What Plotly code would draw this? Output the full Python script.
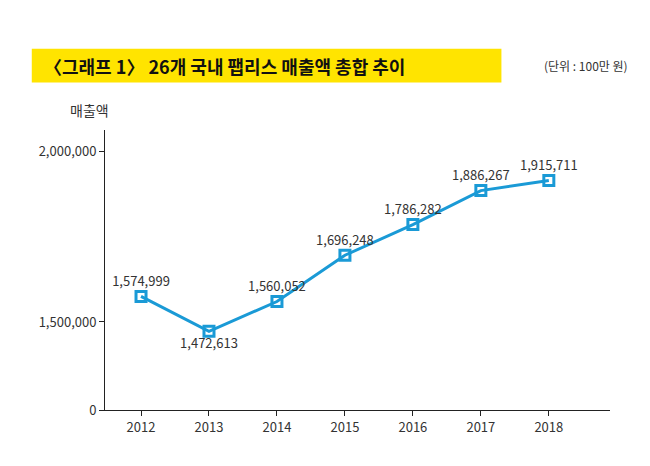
import plotly.graph_objects as go

years = ["2012", "2013", "2014", "2015", "2016", "2017", "2018"]
sales = [1574999, 1472613, 1560052, 1696248, 1786282, 1886267, 1915711]
labels = ["1,574,999", "1,472,613", "1,560,052", "1,696,248", "1,786,282", "1,886,267", "1,915,711"]
positions = ["top center", "bottom center", "top center", "top center", "top center", "top center", "top center"]
ytick_vals = [1241000, 1500000, 2000000]
ytick_text = ["0", "1,500,000", "2,000,000"]

fig = go.Figure(go.Scatter(
    x=list(range(len(years))), y=sales, mode="lines+markers+text",
    text=labels, textposition=positions,
    textfont=dict(size=13, color="#333"),
    line=dict(color="#1a9ad6", width=3),
    marker=dict(symbol="square-open", size=10, color="#1a9ad6", line=dict(width=3)),
))
fig.update_layout(
    width=650, height=466, margin=dict(l=97, r=48, t=122, b=64),
    plot_bgcolor="white", paper_bgcolor="white", showlegend=False,
    font=dict(family="Noto Sans CJK KR", color="#333"),
    xaxis=dict(range=[-0.53, 6.9], tickvals=list(range(len(years))), ticktext=years,
               showgrid=False, zeroline=False, showline=True, linecolor="#222",
               ticks="outside", ticklen=5, tickcolor="#222", tickfont=dict(size=13)),
    yaxis=dict(range=[1241000, 2064500], tickvals=ytick_vals, ticktext=ytick_text,
               showgrid=False, zeroline=False, showline=True, linecolor="#222",
               ticks="outside", ticklen=5, tickcolor="#222", tickfont=dict(size=13)),
    shapes=[dict(type="rect", xref="paper", yref="paper", x0=-0.145, x1=0.785, y0=1.17, y1=1.29,
                 fillcolor="#ffe400", line=dict(width=0), layer="below")],
    annotations=[
        dict(text="<b>〈그래프 1〉 26개 국내 팹리스 매출액 총합 추이</b>", xref="paper", yref="paper",
             x=-0.125, y=1.23, xanchor="left", yanchor="middle", showarrow=False,
             font=dict(size=18, color="#111")),
        dict(text="(단위 : 100만 원)", xref="paper", yref="paper", x=1.04, y=1.23,
             xanchor="right", yanchor="middle", showarrow=False, font=dict(size=12, color="#333")),
        dict(text="매출액", xref="paper", yref="paper", x=-0.03, y=1.07,
             xanchor="center", yanchor="middle", showarrow=False, font=dict(size=14, color="#333")),
    ],
)
fig.write_html("out.html")
